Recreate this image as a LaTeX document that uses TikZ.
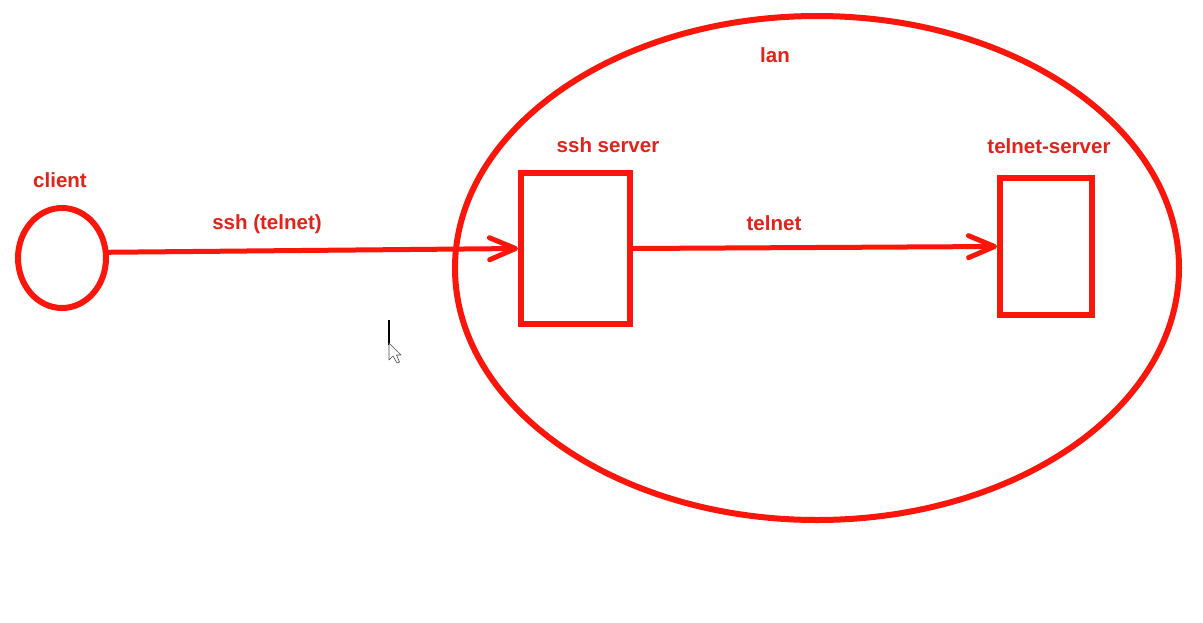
\documentclass[tikz,border=0pt]{standalone}
\usepackage{fontspec}
\setmainfont{Liberation Sans}
\usetikzlibrary{shapes.geometric,arrows.meta}
\definecolor{pen}{RGB}{250,22,10}
\definecolor{ink}{RGB}{225,35,25}
\begin{document}
\begin{tikzpicture}[x=1pt,y=-1pt,
  shapeline/.style={draw=pen,line width=6pt},
  lbl/.style={text=ink,font=\fontsize{20.5}{24}\selectfont\bfseries,inner sep=0pt},
  conn/.style={draw=pen,line width=5pt,line cap=round,-{Straight Barb[length=26pt,width=22pt,line cap=round,line join=round]}},
  linkline/.style={draw=pen,line width=5pt}]
\useasboundingbox[fill=white] (0,0) rectangle (1203,622);
\node[shapeline,ellipse,minimum width=724pt,minimum height=504pt,inner sep=0pt] (lan) at (817,268) {};
\node[shapeline,ellipse,minimum width=88pt,minimum height=100pt,inner sep=0pt] (client) at (62,258) {};
\node[shapeline,rectangle,minimum width=109pt,minimum height=151pt,inner sep=0pt] (ssh) at (575.5,248.5) {};
\node[shapeline,rectangle,minimum width=92pt,minimum height=137pt,inner sep=0pt] (tel) at (1046,246.5) {};
\node[lbl] (lanlbl) at (775,55) {lan};
\node[lbl] (clientlbl) at (60,180) {client};
\node[lbl] (sshlbl) at (608,145) {ssh server};
\node[lbl] (tellbl) at (1049,146) {telnet-server};
\node[lbl] (l1) at (267,224) {ssh (telnet)};
\node[lbl] (l2) at (774,223) {telnet};
\draw[conn] (client.7) -- (ssh.west);
\draw[conn] (ssh.east) -- (tel.west);
% cursor
\draw[black,line width=1.3pt] (389,320) -- (389,345);
\draw[black!70,fill=white,line width=0.6pt,line join=round] (389,343) -- (389,360) -- (393,356) -- (397,363) -- (399.5,362) -- (396.5,355) -- (401,355) -- cycle;
\end{tikzpicture}
\end{document}
